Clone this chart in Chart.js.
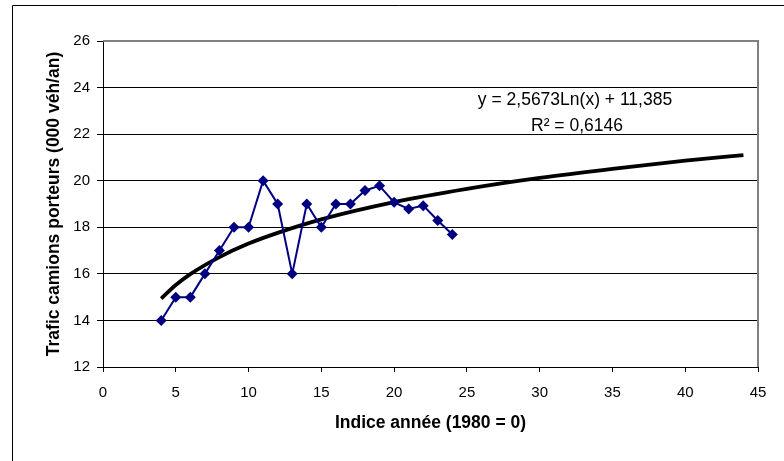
<!DOCTYPE html>
<html>
<head>
<meta charset="utf-8">
<script src="https://cdn.jsdelivr.net/npm/chart.js@4/dist/chart.umd.min.js"></script>
<style>
  html, body { margin: 0; padding: 0; background: #fff; }
  #box { width: 784px; height: 461px; }
</style>
</head>
<body>
<div id="box"><canvas id="chart"></canvas></div>
<script>
// indice année (1980 = 0)
const years = [4, 5, 6, 7, 8, 9, 10, 11, 12, 13, 14, 15, 16, 17, 18, 19, 20, 21, 22, 23, 24];
// trafic camions porteurs (000 véh/an)
const traffic = [14, 15, 15, 16, 17, 18, 18, 20, 19, 16, 19, 18, 19, 19, 19.58, 19.78, 19.07, 18.79, 18.93, 18.29, 17.69];

// tendance logarithmique
const trendX = [4, 5, 6, 8, 10, 12, 15, 20, 25, 30, 35, 40, 44];
const trendY = [14.94, 15.52, 15.99, 16.72, 17.30, 17.76, 18.34, 19.08, 19.65, 20.12, 20.51, 20.86, 21.10];

const yTicks = [12, 14, 16, 18, 20, 22, 24, 26];
const xTicks = [0, 5, 10, 15, 20, 25, 30, 35, 40, 45];

const eqLine1 = 'y = 2,5673Ln(x) + 11,385';
const eqLine2 = 'R² = 0,6146';

const FONT = "'Liberation Sans', Arial, sans-serif";

const pts = years.map((x, i) => ({x: x, y: traffic[i]}));
const trendPts = trendX.map((x, i) => ({x: x, y: trendY[i]}));

// cadre gris haut/droite, bordure extérieure, équation
const extras = {
    id: 'extras',
    afterDraw(chart) {
        const ctx = chart.ctx;
        const a = chart.chartArea;
        ctx.save();
        ctx.strokeStyle = '#000';
        ctx.lineWidth = 1;
        ctx.beginPath();
        ctx.moveTo(12.5, 461);
        ctx.lineTo(12.5, 5.5);
        ctx.lineTo(784, 5.5);
        ctx.stroke();

        ctx.strokeStyle = '#808080';
        ctx.lineWidth = 2;
        ctx.beginPath();
        ctx.moveTo(a.left, a.top);
        ctx.lineTo(a.right, a.top);
        ctx.lineTo(a.right, a.bottom);
        ctx.stroke();

        ctx.fillStyle = '#000';
        ctx.font = '17.5px ' + FONT;
        ctx.textAlign = 'center';
        ctx.textBaseline = 'middle';
        ctx.fillText(eqLine1, 575, 100);
        ctx.fillText(eqLine2, 577, 126);
        ctx.restore();
    }
};

new Chart(document.getElementById('chart'), {
    type: 'scatter',
    data: {
        datasets: [{
            data: trendPts,
            showLine: true,
            borderColor: '#000',
            borderWidth: 3.8,
            pointRadius: 0,
            cubicInterpolationMode: 'monotone',
            order: 2
        }, {
            data: pts,
            showLine: true,
            borderColor: '#000080',
            backgroundColor: '#000080',
            borderWidth: 2,
            pointStyle: 'rectRot',
            pointRadius: 5.5,
            pointBorderWidth: 0,
            order: 1
        }]
    },
    options: {
        responsive: true,
        maintainAspectRatio: false,
        animation: false,
        events: [],
        layout: { padding: { left: 0, top: 41, right: 26, bottom: 0 } },
        plugins: { legend: { display: false }, tooltip: { enabled: false } },
        scales: {
            x: {
                type: 'linear',
                min: 0,
                max: 45,
                afterFit(s) { s.height = 94; },
                afterBuildTicks(s) { s.ticks = xTicks.map(v => ({value: v})); },
                grid: { drawOnChartArea: false, color: '#000', tickLength: 5 },
                border: { color: '#000', width: 1 },
                ticks: { color: '#000', font: { family: FONT, size: 15 }, padding: 12, maxRotation: 0 },
                title: {
                    display: true,
                    text: 'Indice année (1980 = 0)',
                    color: '#000',
                    font: { family: FONT, size: 17.5, weight: 'bold' },
                    padding: { bottom: 27.5 }
                }
            },
            y: {
                type: 'linear',
                min: 12,
                max: 26,
                afterFit(s) { s.width = 103; },
                afterBuildTicks(s) { s.ticks = yTicks.map(v => ({value: v})); },
                grid: { color: '#000', tickLength: 6 },
                border: { color: '#000', width: 1 },
                ticks: { color: '#000', font: { family: FONT, size: 15 }, padding: 7 },
                title: {
                    display: true,
                    text: 'Trafic camions porteurs (000 véh/an)',
                    color: '#000',
                    font: { family: FONT, size: 17.5, weight: 'bold' },
                    padding: { top: 43.5 }
                }
            }
        }
    },
    plugins: [extras]
});
</script>
</body>
</html>
